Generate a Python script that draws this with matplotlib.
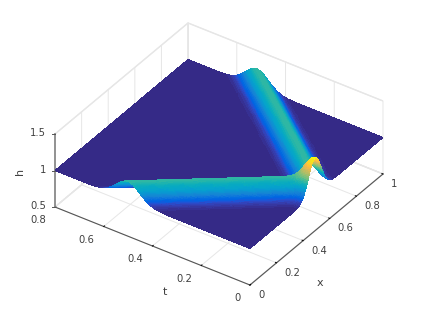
import numpy as np
import matplotlib
matplotlib.use("Agg")
import matplotlib.pyplot as plt
from matplotlib.colors import ListedColormap
from matplotlib.lines import Line2D
from mpl_toolkits.mplot3d import proj3d

# values
base_level = 1.0
ridge_times = [0.0, 0.2, 0.4, 0.6, 0.8]
left_ridge_x = [0.488, 0.293, 0.098, -0.097, -0.292]
right_ridge_x = [0.488, 0.686, 0.884, 1.082, 1.280]
profile_offset = [0.00, 0.01, 0.02, 0.03, 0.04, 0.05, 0.06, 0.07, 0.08, 0.09, 0.10, 0.11, 0.12, 0.14, 0.16]
profile_height = [0.250, 0.244, 0.228, 0.203, 0.173, 0.141, 0.110, 0.081, 0.058, 0.040, 0.025, 0.016, 0.009, 0.003, 0.0]
x_ticks = [0, 0.2, 0.4, 0.6, 0.8, 1]
t_ticks = [0, 0.2, 0.4, 0.6, 0.8]
h_ticks = [0.5, 1, 1.5]
x_tick_labels = ["0", "0.2", "0.4", "0.6", "0.8", "1"]
t_tick_labels = ["0", "0.2", "0.4", "0.6", "0.8"]
h_tick_labels = ["0.5", "1", "1.5"]

parula = [
 (.2081,.1663,.5292),(.2116,.1898,.5777),(.2123,.2138,.6270),(.2081,.2386,.6771),(.1959,.2645,.7279),(.1707,.2919,.7792),
 (.1253,.3242,.8303),(.0591,.3598,.8683),(.0117,.3875,.8820),(.0060,.4086,.8828),(.0165,.4266,.8786),(.0329,.4430,.8720),
 (.0498,.4586,.8641),(.0629,.4737,.8554),(.0723,.4887,.8467),(.0779,.5040,.8384),(.0793,.5200,.8312),(.0749,.5375,.8263),
 (.0641,.5570,.8240),(.0488,.5772,.8228),(.0343,.5966,.8199),(.0265,.6137,.8135),(.0239,.6287,.8038),(.0231,.6418,.7913),
 (.0228,.6535,.7768),(.0267,.6642,.7607),(.0384,.6743,.7436),(.0590,.6838,.7254),(.0843,.6928,.7062),(.1133,.7015,.6859),
 (.1453,.7098,.6646),(.1801,.7177,.6424),(.2178,.7250,.6193),(.2586,.7317,.5954),(.3022,.7376,.5712),(.3482,.7424,.5473),
 (.3953,.7459,.5244),(.4420,.7481,.5033),(.4871,.7491,.4840),(.5300,.7491,.4661),(.5709,.7485,.4494),(.6099,.7473,.4337),
 (.6473,.7456,.4188),(.6834,.7435,.4044),(.7184,.7411,.3905),(.7525,.7384,.3768),(.7858,.7356,.3633),(.8185,.7327,.3498),
 (.8507,.7299,.3360),(.8824,.7274,.3217),(.9139,.7258,.3063),(.9450,.7261,.2886),(.9739,.7314,.2666),(.9938,.7455,.2403),
 (.9990,.7653,.2164),(.9955,.7861,.1967),(.9880,.8066,.1794),(.9789,.8271,.1633),(.9697,.8481,.1475),(.9626,.8705,.1309),
 (.9589,.8949,.1132),(.9598,.9218,.0948),(.9661,.9514,.0755),(.9763,.9831,.0538)]
cmap = ListedColormap(parula)

xg = np.linspace(0, 1, 321)
tg = np.linspace(0, 0.8, 261)
X, T = np.meshgrid(xg, tg)
lc = np.interp(T, ridge_times, left_ridge_x)
rc = np.interp(T, ridge_times, right_ridge_x)
H = (base_level
     + np.interp(np.abs(X - lc), profile_offset, profile_height)
     + np.interp(np.abs(X - rc), profile_offset, profile_height))

W, Hp = 423, 321
fig = plt.figure(figsize=(W / 100, Hp / 100), dpi=100, facecolor="white")
ax = fig.add_axes([-0.5, -0.5, 2, 2], projection="3d", proj_type="ortho")
ax.view_init(elev=35.3, azim=-145.3)
ax.set_xlim(0, 1, view_margin=0)
ax.set_ylim(0, 0.8, view_margin=0)
ax.set_zlim(0.5, 1.5, view_margin=0)
aspect = (233.6, 237.0, 89.4)

ax.plot_surface(X, T, H, rstride=1, cstride=1, cmap=cmap, vmin=1.0, vmax=H.max(),
                linewidth=0, antialiased=False, shade=False)

dark = "#555555"
text_col = "#404040"
ax.set_xticks(x_ticks, [""] * len(x_ticks))
ax.set_yticks(t_ticks, [""] * len(t_ticks))
ax.set_zticks(h_ticks, [""] * len(h_ticks))
for a in (ax.xaxis, ax.yaxis, ax.zaxis):
    a.set_pane_color((1, 1, 1, 1))
    a.pane.set_edgecolor("#e6e6e6")
    a.line.set_color(dark)
    a.line.set_linewidth(0.8)
    a._axinfo["grid"].update(color="#e6e6e6", linewidth=0.7)
    a._axinfo["tick"].update(inward_factor=0.0, outward_factor=0.07, linewidth={True: .7, False: .5}, color=dark)
ax.zaxis._axinfo["tick"].update(outward_factor=0.0)
ax.zaxis.line.set_color("#8a8a8a")
ax.zaxis.line.set_linewidth(1.3)

# place the box on the reference's pixel corners
target_a = np.array([250.0, Hp - 285.0])  # x=0, t=0, h=0.5
target_b = np.array([188.0, Hp - 23.0])   # x=1, t=0.8, h=1.5


def to_px(x, t, h):
    p = proj3d.proj_transform(x, t, h, ax.get_proj())[:2]
    return ax.transData.transform(p)


zoom = 1.0
pos = [-0.5, -0.5, 2.0, 2.0]
for _ in range(4):
    ax.set_box_aspect(aspect, zoom=zoom)
    ax.set_position(pos)
    fig.canvas.draw()
    pa, pb = to_px(0, 0, 0.5), to_px(1, 0.8, 1.5)
    zoom *= np.linalg.norm(target_a - target_b) / np.linalg.norm(pa - pb)
    ax.set_box_aspect(aspect, zoom=zoom)
    fig.canvas.draw()
    pa, pb = to_px(0, 0, 0.5), to_px(1, 0.8, 1.5)
    d = (target_a + target_b) / 2 - (pa + pb) / 2
    pos = [pos[0] + d[0] / W, pos[1] + d[1] / Hp, 2.0, 2.0]
ax.set_position(pos)
fig.canvas.draw()


def label_at(p, dx, dy, s, ha):
    fig.text((p[0] + dx) / W, (p[1] + dy) / Hp, s, ha=ha, va="center",
             fontsize=7.2, color=text_col)


for v, s in zip(x_ticks, x_tick_labels):
    label_at(to_px(v, 0, 0.5), 8, -10, s, "left")
for v, s in zip(t_ticks, t_tick_labels):
    label_at(to_px(0, v, 0.5), -9, -13, s, "right")
for v, s in zip(h_ticks, h_tick_labels):
    p = to_px(0, 0.8, v)
    label_at(p, -9, 1, s, "right")
    fig.add_artist(Line2D([(p[0] - 3) / W, p[0] / W], [p[1] / Hp, p[1] / Hp],
                          color=dark, lw=0.7, transform=fig.transFigure))

fig.text(320 / W, (Hp - 283) / Hp, "x", ha="center", va="center", fontsize=8, color=text_col)
fig.text(165 / W, (Hp - 292) / Hp, "t", ha="center", va="center", fontsize=8, color=text_col)
fig.text(20 / W, (Hp - 171) / Hp, "h", ha="center", va="center", fontsize=8, color=text_col, rotation=90)

fig.savefig("out.png", dpi=100)
